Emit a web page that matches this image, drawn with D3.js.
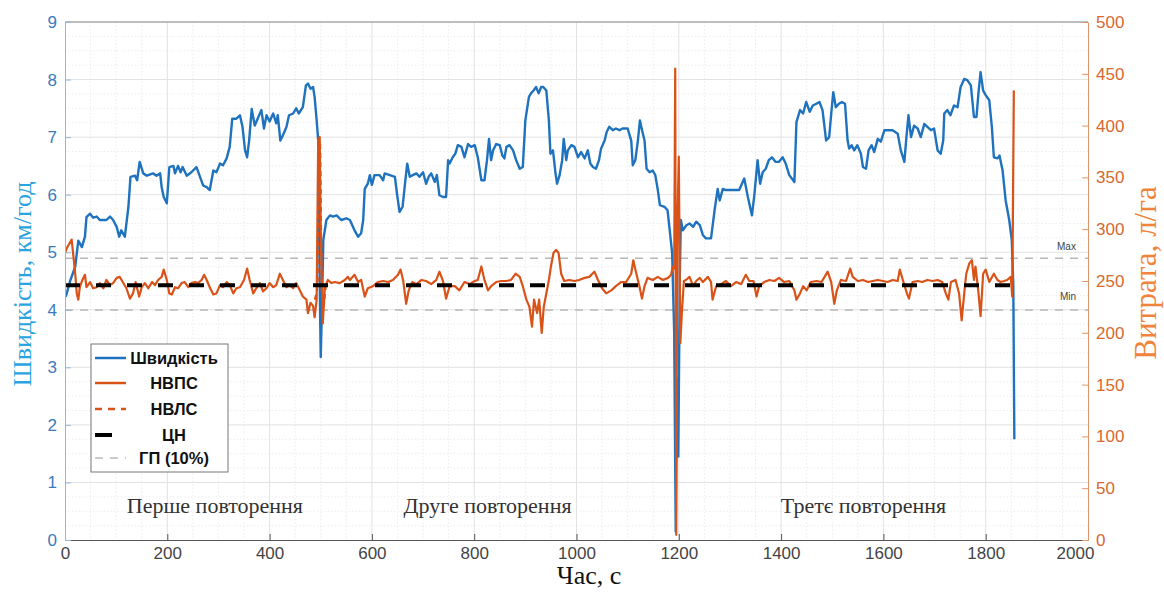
<!DOCTYPE html>
<html><head><meta charset="utf-8">
<script src="https://cdn.jsdelivr.net/npm/d3@7"></script>
<style>body{margin:0;background:#fff}svg{display:block}</style>
</head><body><svg id="c" width="1164" height="592"></svg>
<script>
// ---- data ----
const speedT = [0,2,10,20,26,33,39,42,49,55,62,68,81,88,94,101,106,110,117,124,128,137,141,146,153,160,172,179,186,189,193,199,204,212,215,221,226,230,238,247,257,264,270,277,283,290,296,303,309,316,322,327,335,342,347,352,356,360,365,371,378,384,389,394,400,407,413,416,421,426,433,438,446,452,457,465,471,475,480,485,488,492,495,497,499,500,503,505,511,518,524,531,540,550,557,566,573,579,583,586,592,596,600,605,615,622,625,635,645,649,654,660,664,669,674,680,687,693,700,706,711,716,723,727,732,739,745,749,752,758,763,768,775,781,788,794,801,807,814,820,825,829,833,837,843,850,855,859,863,869,876,882,889,895,900,907,911,916,921,926,931,935,941,946,949,954,959,962,967,972,975,980,983,990,996,1003,1009,1016,1022,1027,1032,1038,1044,1048,1055,1059,1064,1071,1077,1084,1090,1100,1107,1110,1115,1120,1124,1129,1133,1137,1143,1149,1154,1159,1163,1172,1178,1183,1187,1191,1194,1196,1199,1202,1204,1208,1215,1221,1228,1234,1241,1247,1253,1263,1270,1276,1280,1286,1292,1305,1318,1328,1335,1343,1348,1354,1359,1364,1370,1376,1382,1389,1396,1403,1409,1416,1426,1430,1437,1443,1449,1456,1462,1469,1475,1481,1488,1494,1498,1502,1507,1513,1519,1525,1530,1533,1538,1543,1549,1556,1560,1566,1571,1577,1582,1589,1595,1602,1608,1618,1628,1634,1641,1645,1649,1654,1660,1667,1673,1680,1686,1693,1699,1706,1712,1717,1719,1725,1731,1738,1745,1751,1758,1764,1771,1777,1782,1786,1790,1795,1800,1807,1812,1816,1823,1827,1833,1839,1846,1851,1854,1856];
const speedV = [4.25,4.24,4.5,4.75,5.2,5.09,5.27,5.61,5.67,5.6,5.62,5.56,5.56,5.62,5.56,5.44,5.27,5.38,5.27,5.79,6.31,6.33,6.25,6.57,6.37,6.33,6.37,6.33,6.37,6.13,5.96,5.85,6.48,6.5,6.37,6.5,6.39,6.48,6.33,6.39,6.48,6.31,6.16,6.13,6.08,6.42,6.39,6.54,6.51,6.63,6.83,7.32,7.32,7.38,7.18,6.77,6.65,6.94,7.49,7.2,7.35,7.47,7.15,7.38,7.27,7.41,7.24,7.38,6.94,7.03,7.18,7.38,7.41,7.5,7.41,7.52,7.9,7.93,7.84,7.87,7.7,7.29,6.94,5.21,3.77,3.18,4.3,5.21,5.56,5.64,5.62,5.64,5.56,5.59,5.56,5.38,5.27,5.33,5.56,6.1,6.19,6.34,6.17,6.34,6.34,6.25,6.37,6.34,6.31,6.02,5.7,5.79,6.13,6.54,6.31,6.34,6.37,6.31,6.39,6.19,6.31,6.37,6.22,6.34,5.99,5.96,5.96,6.6,6.54,6.65,6.71,6.86,6.83,6.65,6.88,6.83,6.86,6.65,6.25,6.25,6.6,6.97,6.6,6.77,6.88,6.86,6.68,6.63,6.83,6.86,6.77,6.6,6.45,6.48,7.29,7.7,7.76,7.81,7.87,7.76,7.87,7.87,7.81,7.29,6.71,6.77,6.37,6.19,6.34,6.6,6.97,6.6,6.77,6.86,6.83,6.65,6.74,6.63,6.77,6.54,6.48,6.45,6.6,6.8,6.94,7.09,7.18,7.12,7.15,7.12,7.15,7.15,6.94,6.51,6.6,6.94,7.29,7.09,6.94,6.45,6.39,6.42,6.34,6.08,5.82,5.79,5.73,5.32,4.98,3.6,0.15,2.8,1.45,4.6,5.56,5.38,5.47,5.5,5.44,5.53,5.47,5.3,5.24,5.24,5.73,6.1,5.9,6.1,6.08,6.08,6.08,6.28,5.96,5.64,6.02,6.6,6.19,6.39,6.45,6.6,6.65,6.57,6.57,6.65,6.54,6.34,6.22,7.26,7.47,7.41,7.61,7.44,7.55,7.58,7.61,7.47,6.94,7.0,7.41,7.78,7.52,7.58,7.61,7.58,6.94,6.8,6.86,6.77,6.86,6.71,6.48,6.45,6.77,6.86,6.74,6.97,6.92,7.12,7.12,7.12,7.06,6.77,6.57,7.0,7.38,7.0,7.2,7.15,7.0,7.23,7.18,7.12,7.15,6.77,6.71,6.94,7.41,7.47,7.38,7.55,7.52,7.87,8.01,7.99,7.9,7.35,7.35,7.78,8.13,7.81,7.73,7.64,7.18,6.65,6.63,6.68,6.42,5.9,5.56,5.21,4.4,1.75];

const flowT = [0,2,5,13,16,20,23,26,29,34,39,42,49,55,62,68,75,81,88,94,101,107,114,120,127,133,138,145,150,156,163,170,176,182,189,193,199,204,209,215,221,228,234,241,247,254,260,267,272,277,283,290,296,303,309,316,322,329,335,342,350,356,361,368,374,381,387,394,400,407,413,420,426,433,439,446,452,459,465,472,475,480,485,488,492,495,498,500,502,504,508,514,521,527,537,547,553,557,566,573,579,586,592,602,612,622,632,641,651,656,661,667,672,679,687,697,706,716,726,732,739,745,752,762,771,781,791,801,807,814,820,827,833,843,853,863,872,881,889,895,902,908,913,917,923,927,932,936,941,946,950,955,960,965,970,976,986,996,1005,1016,1025,1035,1042,1050,1058,1068,1077,1087,1097,1107,1111,1117,1123,1128,1133,1139,1149,1159,1169,1179,1185,1188,1191,1193,1195,1197,1200,1203,1206,1210,1214,1221,1228,1234,1241,1247,1257,1263,1266,1273,1283,1292,1302,1312,1322,1331,1338,1346,1352,1357,1367,1377,1387,1396,1406,1416,1426,1430,1437,1443,1450,1458,1469,1479,1485,1491,1498,1504,1509,1517,1527,1535,1540,1550,1560,1570,1579,1589,1599,1608,1618,1628,1632,1638,1646,1650,1657,1667,1676,1686,1696,1706,1715,1722,1727,1732,1741,1748,1753,1758,1762,1768,1773,1777,1780,1786,1790,1795,1800,1807,1816,1823,1829,1836,1842,1849,1852,1855];
const flowV = [276,280,283,290,276,257,238,232,244,251,256,244,249,243,244,248,243,251,246,248,253,254,248,243,233,238,249,235,244,248,243,249,246,251,254,261,251,238,237,244,243,248,249,244,248,249,248,251,256,251,244,237,238,246,244,249,246,238,243,244,251,262,251,238,243,248,240,243,248,244,246,257,251,244,246,243,248,241,235,232,219,229,226,215,232,386,389,300,250,209,244,251,248,249,248,251,254,251,256,249,251,235,243,245,249,250,249,251,256,261,251,228,241,249,247,251,250,247,251,259,250,233,245,245,241,249,247,250,251,264,251,241,245,249,250,250,251,257,254,245,232,225,206,232,219,232,200,225,238,251,264,277,280,277,257,250,251,250,251,253,254,259,251,243,238,241,245,249,249,257,270,257,245,233,245,253,251,254,251,253,256,264,262,455,5,300,370,190,220,250,251,254,245,250,253,249,254,249,232,245,247,250,245,249,247,256,250,250,235,245,249,251,250,253,249,250,241,232,238,245,241,249,250,249,254,259,249,228,241,251,250,262,254,250,251,249,250,251,250,249,251,250,261,251,238,233,249,250,249,251,250,251,249,238,232,249,251,238,212,238,257,267,270,251,264,238,216,257,261,249,257,251,249,250,251,254,235,434];

const flowLT = [488,492,494,496,499,502,506,510];
const flowLV = [232,238,250,380,385,240,225,245];

const targetT = [0,1860];
const targetV = [246,246];
const gpMax = 272, gpMin = 222;

const xTicks = [0,200,400,600,800,1000,1200,1400,1600,1800,2000];
const yLTicks = [0,1,2,3,4,5,6,7,8,9];
const yRTicks = [0,50,100,150,200,250,300,350,400,450,500];
const legendItems = ["Швидкість","НВПС","НВЛС","ЦН","ГП (10%)"];
const notes = [{t:293,label:"Перше повторення"},{t:826,label:"Друге повторення"},{t:1561,label:"Третє повторення"}];

// ---- drawing ----
const svg = d3.select("#c");
const L=65,R=1088,T=22,B=540;
const x = d3.scaleLinear([0,2000],[L,R]);
const yL = d3.scaleLinear([0,9],[B,T]);
const yR = d3.scaleLinear([0,500],[B,T]);
const BLUE="#1f72bd", ORANGE="#d95319";

svg.append("rect").attr("width",1164).attr("height",592).attr("fill","#fff");

// grid
const g = svg.append("g");
g.selectAll(".vm").data(d3.range(0,2001,50).filter(v=>v%200)).join("line")
 .attr("x1",d=>x(d)).attr("x2",d=>x(d)).attr("y1",T).attr("y2",B)
 .attr("stroke","#ececec").attr("stroke-dasharray","1.5,2");
g.selectAll(".hm").data(d3.range(0,9.01,0.25).filter(v=>v%1)).join("line")
 .attr("x1",L).attr("x2",R).attr("y1",d=>yL(d)).attr("y2",d=>yL(d))
 .attr("stroke","#ececec").attr("stroke-dasharray","1.5,2");
g.selectAll(".vM").data(xTicks.slice(1,-1)).join("line")
 .attr("x1",d=>x(d)).attr("x2",d=>x(d)).attr("y1",T).attr("y2",B)
 .attr("stroke","#e2e2e2");
g.selectAll(".hM").data(yLTicks.slice(1)).join("line")
 .attr("x1",L).attr("x2",R).attr("y1",d=>yL(d)).attr("y2",d=>yL(d))
 .attr("stroke","#e2e2e2");

// top frame
svg.append("line").attr("x1",L).attr("x2",R).attr("y1",T).attr("y2",T).attr("stroke","#8a8a8a");

// GP lines
[gpMax,gpMin].forEach(v=>{
  svg.append("line").attr("x1",L).attr("x2",R).attr("y1",yR(v)).attr("y2",yR(v))
   .attr("stroke","#b8b8b8").attr("stroke-width",1.5).attr("stroke-dasharray","8,7");
});
svg.append("text").attr("x",1057).attr("y",yR(gpMax)-8).attr("font-family","Liberation Sans").attr("font-size",10).attr("fill","#444").text("Max");
svg.append("text").attr("x",1060).attr("y",yR(gpMin)-10).attr("font-family","Liberation Sans").attr("font-size",10).attr("fill","#444").text("Min");

svg.append("clipPath").attr("id","pc").append("rect").attr("x",L).attr("y",T).attr("width",R-L).attr("height",B-T+2);
const plot = svg.append("g").attr("clip-path","url(#pc)");

const lineL = d3.line().x(d=>x(d[0])).y(d=>yL(d[1]));
const lineR = d3.line().x(d=>x(d[0])).y(d=>yR(d[1]));

plot.append("path").datum(speedT.map((t,i)=>[t,speedV[i]])).attr("d",lineL)
 .attr("fill","none").attr("stroke",BLUE).attr("stroke-width",2.4).attr("stroke-linejoin","round");
plot.append("path").datum(flowLT.map((t,i)=>[t,flowLV[i]])).attr("d",lineR)
 .attr("fill","none").attr("stroke",ORANGE).attr("stroke-width",2).attr("stroke-dasharray","5,4");
plot.append("path").datum(flowT.map((t,i)=>[t,flowV[i]])).attr("d",lineR)
 .attr("fill","none").attr("stroke",ORANGE).attr("stroke-width",2.2).attr("stroke-linejoin","round");
plot.append("path").datum(targetT.map((t,i)=>[t,targetV[i]])).attr("d",lineR)
 .attr("fill","none").attr("stroke","#000").attr("stroke-width",4).attr("stroke-dasharray","15,16");

// axes
const ax = svg.append("g").attr("transform",`translate(0,${B})`)
 .call(d3.axisBottom(x).tickValues(xTicks).tickSizeInner(-6).tickSizeOuter(0).tickPadding(7).tickFormat(d3.format("d")));
ax.select(".domain").attr("stroke","#555");
ax.selectAll(".tick line").attr("stroke","#555");
ax.selectAll("text").attr("font-family","Liberation Sans").attr("font-size",17).attr("fill","#444");
ax.selectAll(".tick text").filter(d=>d===2000).attr("dx",-13);

const al = svg.append("g").attr("transform",`translate(${L},0)`)
 .call(d3.axisLeft(yL).tickValues(yLTicks).tickSizeInner(-6).tickSizeOuter(0).tickPadding(8));
al.select(".domain").attr("stroke","#8fb8dc");
al.selectAll(".tick line").attr("stroke","#8fb8dc");
al.selectAll("text").attr("font-family","Liberation Sans").attr("font-size",17).attr("fill","#3b7bbd");

const ar = svg.append("g").attr("transform",`translate(${R},0)`)
 .call(d3.axisRight(yR).tickValues(yRTicks).tickSizeInner(-6).tickSizeOuter(0).tickPadding(8));
ar.select(".domain").attr("stroke","#e0946a");
ar.selectAll(".tick line").attr("stroke","#e0946a");
ar.selectAll("text").attr("font-family","Liberation Sans").attr("font-size",17).attr("fill","#d8682e");

// axis titles
svg.append("text").attr("transform","translate(31,284) rotate(-90)").attr("text-anchor","middle")
 .attr("font-family","Liberation Serif").attr("font-size",26).attr("fill","#2aa4e0").text("Швидкість, км/год");
svg.append("text").attr("transform","translate(1156,273) rotate(-90)").attr("text-anchor","middle")
 .attr("font-family","Liberation Serif").attr("font-size",31).attr("fill","#f0843c").text("Витрата, л/га");
svg.append("text").attr("x",589).attr("y",584).attr("text-anchor","middle")
 .attr("font-family","Liberation Serif").attr("font-size",26).attr("fill","#111").text("Час, с");

// notes
svg.selectAll(".note").data(notes).join("text").attr("x",d=>x(d.t)).attr("y",513).attr("text-anchor","middle")
 .attr("font-family","Liberation Serif").attr("font-size",22).attr("fill","#333").text(d=>d.label);

// legend
const lg = svg.append("g");
lg.append("rect").attr("x",91).attr("y",344).attr("width",137).attr("height",128).attr("fill","#fff").attr("stroke","#777");
const rows=[358,383,409,435,458];
const styles=[{c:BLUE,w:2.5,d:null},{c:ORANGE,w:2.5,d:null},{c:ORANGE,w:2.5,d:"7,6"},{c:"#000",w:4,d:"17,30"},{c:"#bbb",w:1.5,d:"8,7"}];
legendItems.forEach((s,i)=>{
  lg.append("line").attr("x1",95).attr("x2",126).attr("y1",rows[i]).attr("y2",rows[i])
   .attr("stroke",styles[i].c).attr("stroke-width",styles[i].w).attr("stroke-dasharray",styles[i].d);
  lg.append("text").attr("x",174).attr("y",rows[i]+6).attr("text-anchor","middle")
   .attr("font-family","Liberation Sans").attr("font-weight","bold").attr("font-size",16.5).attr("fill","#111").text(s);
});
</script></body></html>
